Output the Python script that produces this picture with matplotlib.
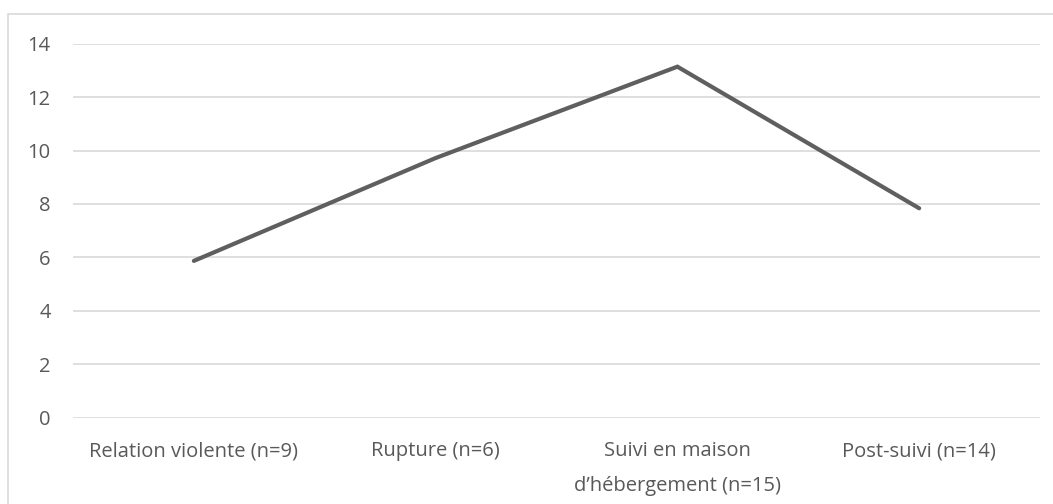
import matplotlib
matplotlib.use("Agg")
import matplotlib.pyplot as plt
from matplotlib.patches import Rectangle

# stages of the trajectory and the mean score at each one
categories = [
    "Relation violente (n=9)",
    "Rupture (n=6)",
    "Suivi en maison\nd\u2019hébergement (n=15)",
    "Post-suivi (n=14)",
]
values = [5.87, 9.72, 13.14, 7.84]
yticks = [0, 2, 4, 6, 8, 10, 12, 14]

TEXT = "#595959"
GRID = "#d9d9d9"

plt.rcParams["font.family"] = ["Open Sans", "DejaVu Sans"]

fig = plt.figure(figsize=(10.53, 5.04), dpi=100)
ax = fig.add_axes([0.0693, 0.1712, 0.9184, 0.7421])

x = list(range(len(categories)))
ax.plot(x, values, color="#5f5f5f", lw=3.0, solid_capstyle="round",
        solid_joinstyle="miter")

ax.set_xlim(-0.5, len(categories) - 0.5)
ax.set_ylim(0, 14)
ax.set_yticks(yticks)
ax.set_yticklabels([str(t) for t in yticks])
ax.set_xticks(x)
ax.set_xticklabels(categories, linespacing=1.95)

ax.grid(axis="y", color=GRID, lw=1.2)
ax.set_axisbelow(True)
for s in ax.spines.values():
    s.set_visible(False)
ax.tick_params(axis="both", length=0, labelsize=14.5, colors=TEXT)
ax.tick_params(axis="y", pad=16)
ax.tick_params(axis="x", pad=17)

# chart frame: only its top and left edges fall inside the image
fig.patches.append(Rectangle((8 / 1053, -0.1), 1.2, 1.1 - 14 / 504,
                             transform=fig.transFigure, fill=False,
                             edgecolor=GRID, lw=1.2, clip_on=False))

fig.savefig("out.png", dpi=100)
